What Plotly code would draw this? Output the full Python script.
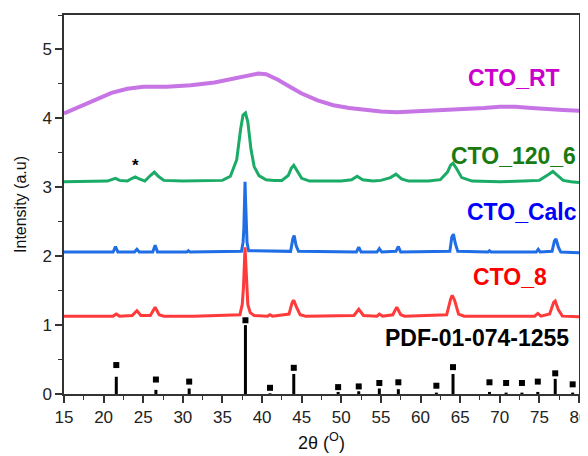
import plotly.graph_objects as go

# ---- data ----
rt_x = [15, 17, 19, 21, 23, 25, 28, 31, 34, 36, 38, 39.5, 40.5, 42, 43.5, 45, 47, 49, 51, 53, 55, 57, 59, 62, 65, 68, 70, 72, 74, 76, 78, 80]
rt_y = [4.07, 4.17, 4.27, 4.37, 4.43, 4.46, 4.46, 4.48, 4.52, 4.57, 4.62, 4.65, 4.64, 4.56, 4.46, 4.36, 4.26, 4.19, 4.15, 4.12, 4.10, 4.09, 4.10, 4.12, 4.14, 4.15, 4.17, 4.17, 4.15, 4.13, 4.12, 4.11]

g_x = [15, 20.5, 21.0, 21.5, 22.0, 23.0, 23.6, 24.0, 24.5, 25.2, 25.9, 26.4, 26.9, 27.6, 30, 33, 35, 36.0, 36.8, 37.3, 37.6, 37.9, 38.2, 38.6, 39.0, 39.6, 40.5, 41.5, 42.5, 43.3, 43.7, 44.0, 44.4, 45.0, 46, 48, 50, 51.3, 52.0, 52.7, 54, 55, 56.2, 56.9, 57.6, 58.5, 61, 62.5, 63.4, 63.8, 64.1, 64.5, 65.2, 66.5, 70, 73, 75.0, 76.2, 76.7, 77.2, 78, 79, 80]
g_y = [3.08, 3.09, 3.11, 3.13, 3.10, 3.09, 3.13, 3.15, 3.12, 3.09, 3.17, 3.22, 3.16, 3.10, 3.09, 3.09, 3.10, 3.16, 3.40, 3.85, 4.05, 4.08, 3.95, 3.55, 3.30, 3.17, 3.11, 3.10, 3.10, 3.17, 3.28, 3.32, 3.25, 3.13, 3.09, 3.09, 3.09, 3.11, 3.16, 3.11, 3.09, 3.10, 3.14, 3.19, 3.12, 3.09, 3.09, 3.11, 3.22, 3.32, 3.35, 3.28, 3.14, 3.09, 3.08, 3.09, 3.10, 3.19, 3.23, 3.18, 3.10, 3.08, 3.07]

b_x = [15, 21.2, 21.5, 21.8, 23.9, 24.2, 24.5, 26.2, 26.5, 26.8, 30.5, 30.7, 30.9, 37.4, 37.6, 37.7, 37.8, 37.85, 37.9, 38.0, 38.1, 38.3, 43.6, 43.9, 44.05, 44.3, 44.6, 51.9, 52.2, 52.5, 54.5, 54.8, 55.1, 56.9, 57.2, 57.5, 63.7, 63.95, 64.15, 64.4, 64.7, 68.5, 68.7, 68.9, 74.6, 74.85, 75.1, 76.6, 76.9, 77.1, 77.4, 77.7, 80]
b_y = [2.06, 2.06, 2.14, 2.06, 2.06, 2.10, 2.06, 2.06, 2.16, 2.06, 2.06, 2.08, 2.06, 2.07, 2.20, 2.40, 2.86, 3.08, 2.86, 2.40, 2.20, 2.08, 2.07, 2.26, 2.30, 2.15, 2.07, 2.06, 2.13, 2.06, 2.06, 2.11, 2.06, 2.07, 2.14, 2.06, 2.07, 2.28, 2.32, 2.18, 2.07, 2.06, 2.08, 2.06, 2.06, 2.10, 2.06, 2.07, 2.22, 2.25, 2.13, 2.06, 2.05]

r_x = [15, 21.2, 21.6, 22.0, 23.6, 24.2, 24.7, 25.9, 26.5, 27.0, 27.6, 30.6, 31.0, 31.4, 37.2, 37.5, 37.65, 37.8, 37.85, 37.9, 38.05, 38.2, 38.5, 39, 40.7, 41.0, 41.3, 43.4, 43.8, 44.0, 44.3, 44.8, 45.5, 51.6, 52.2, 52.8, 54.5, 54.8, 55.2, 56.5, 57.0, 57.5, 58, 63.3, 63.8, 64.0, 64.3, 64.8, 65.5, 74.4, 74.8, 75.2, 76.3, 76.8, 77.0, 77.4, 77.9, 80]
r_y = [1.13, 1.13, 1.16, 1.13, 1.14, 1.21, 1.14, 1.14, 1.26, 1.15, 1.13, 1.13, 1.14, 1.13, 1.15, 1.30, 1.55, 2.00, 2.13, 2.00, 1.55, 1.30, 1.18, 1.14, 1.13, 1.15, 1.13, 1.16, 1.33, 1.36, 1.27, 1.15, 1.13, 1.14, 1.23, 1.14, 1.13, 1.16, 1.13, 1.15, 1.26, 1.15, 1.13, 1.15, 1.38, 1.43, 1.36, 1.16, 1.13, 1.13, 1.17, 1.13, 1.16, 1.33, 1.35, 1.22, 1.13, 1.12]

pdf_pos = [21.6, 26.6, 30.8, 37.9, 41.0, 44.0, 49.6, 52.2, 54.8, 57.2, 62.0, 64.1, 68.7, 70.8, 72.8, 74.8, 77.0, 79.2]
pdf_int = [0.25, 0.06, 0.08, 1.00, 0.01, 0.29, 0.03, 0.04, 0.08, 0.07, 0.02, 0.29, 0.03, 0.02, 0.02, 0.03, 0.22, 0.02]
pdf_mark = [0.42, 0.21, 0.18, 1.07, 0.09, 0.38, 0.10, 0.11, 0.16, 0.17, 0.12, 0.39, 0.17, 0.16, 0.16, 0.18, 0.30, 0.14]

labels = ["CTO_RT", "CTO_120_6", "CTO_Calc", "CTO_8", "PDF-01-074-1255"]
label_x = [71.8, 71.7, 72.8, 71.3, 67.1]
label_y = [4.59, 3.46, 2.64, 1.70, 0.81]
label_col = ["#cc00cc", "#1a7a10", "#0000ff", "#ff0000", "#000000"]

x_ticks = [15, 20, 25, 30, 35, 40, 45, 50, 55, 60, 65, 70, 75, 80]
y_ticks = [0, 1, 2, 3, 4, 5]

FONT = "Liberation Sans, Arial"

fig = go.Figure()

fig.add_trace(go.Scatter(x=rt_x, y=rt_y, mode="lines", line=dict(color="#c774e4", width=4), showlegend=False))
fig.add_trace(go.Scatter(x=g_x, y=g_y, mode="lines", line=dict(color="#1aab66", width=3), showlegend=False))
fig.add_trace(go.Scatter(x=b_x, y=b_y, mode="lines", line=dict(color="#1f6ee6", width=3), showlegend=False))
fig.add_trace(go.Scatter(x=r_x, y=r_y, mode="lines", line=dict(color="#ff3a3a", width=3), showlegend=False))

# PDF sticks
sx, sy = [], []
for p, h in zip(pdf_pos, pdf_int):
    sx += [p, p, None]
    sy += [0, h, None]
fig.add_trace(go.Scatter(x=sx, y=sy, mode="lines", line=dict(color="#000000", width=3), showlegend=False))
fig.add_trace(go.Scatter(x=pdf_pos, y=pdf_mark, mode="markers",
                         marker=dict(symbol="square", size=6, color="#000000"), showlegend=False))

for t, x, y, c in zip(labels, label_x, label_y, label_col):
    fig.add_annotation(x=x, y=y, text="<b>%s</b>" % t, showarrow=False,
                       font=dict(family=FONT, size=23, color=c))

fig.add_annotation(x=24.0, y=3.32, text="<b>*</b>", showarrow=False,
                   font=dict(family=FONT, size=17, color="#000000"))

axis_common = dict(showline=True, linecolor="#333333", linewidth=1.5, mirror=True,
                   ticks="outside", tickcolor="#333333", ticklen=7, tickwidth=1.5,
                   showgrid=False, zeroline=False, automargin=False,
                   ticklabeloverflow="allow",
                   tickfont=dict(family=FONT, size=17, color="#222222"))

fig.update_xaxes(range=[15, 80], tickvals=x_ticks,
                 minor=dict(dtick=2.5, ticks="outside", ticklen=4, tickcolor="#333333", tickwidth=1),
                 title=dict(text="2θ (<sup>O</sup>)", font=dict(family=FONT, size=18, color="#111111"), standoff=10),
                 **axis_common)
fig.update_yaxes(range=[0, 5.5], tickvals=y_ticks,
                 minor=dict(dtick=0.5, ticks="outside", ticklen=4, tickcolor="#333333", tickwidth=1),
                 title=dict(text="Intensity (a.u)", font=dict(family=FONT, size=16, color="#111111"), standoff=12),
                 **axis_common)

# the page body adds an 8px offset, so the figure is sized to fill the rest of the window
fig.update_layout(width=580, height=448, plot_bgcolor="white", paper_bgcolor="white",
                  margin=dict(l=56, r=9, t=7, b=62), showlegend=False)

fig.write_html("out.html")
